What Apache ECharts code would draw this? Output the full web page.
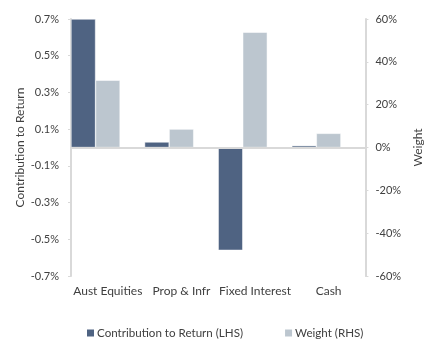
<!DOCTYPE html>
<html>
<head>
<meta charset="utf-8">
<script src="https://cdn.jsdelivr.net/npm/echarts@6/dist/echarts.min.js"></script>
<style>
html,body{margin:0;padding:0;background:#fff;}
#chart{width:432px;height:353px;}
</style>
</head>
<body>
<div id="chart"></div>
<script>
const categories = ["Aust Equities", "Prop & Infr", "Fixed Interest", "Cash"];
const contribution = [0.70, 0.03, -0.56, 0.01];
const weight = [31.4, 8.6, 53.8, 6.6];
const leftTicks = [-0.7, -0.5, -0.3, -0.1, 0.1, 0.3, 0.5, 0.7];
const rightTicks = [-60, -40, -20, 0, 20, 40, 60];

const FONT = 'Lato';
const TXT = '#404040';
const AXIS = '#d9d9d9';

const chart = echarts.init(document.getElementById('chart'), null, {renderer: 'canvas'});
chart.setOption({
  animation: false,
  textStyle: {fontFamily: FONT, color: TXT},
  grid: {left: 71, right: 66, top: 19, bottom: 77, containLabel: false},
  legend: {
    data: ['Contribution to Return (LHS)', 'Weight (RHS)'],
    bottom: 9, left: 80,
    itemWidth: 9, itemHeight: 9, itemGap: 40,
    icon: 'rect',
    textStyle: {fontFamily: FONT, fontSize: 11.6, color: TXT, padding: [0, 0, 0, -3]}
  },
  xAxis: {
    type: 'category',
    data: categories,
    axisLine: {show: false},
    axisTick: {show: false},
    axisLabel: {fontFamily: FONT, fontSize: 12, color: TXT, margin: 9, interval: 0}
  },
  yAxis: [{
    type: 'value',
    min: -0.7, max: 0.7,
    name: 'Contribution to Return',
    nameLocation: 'middle', nameRotate: 90, nameGap: 45, nameMoveOverlap: false,
    nameTextStyle: {fontFamily: FONT, fontSize: 12, color: TXT},
    axisLine: {show: true, lineStyle: {color: AXIS, width: 2}},
    axisTick: {show: true, length: 3, lineStyle: {color: AXIS}, customValues: leftTicks},
    axisLabel: {fontFamily: FONT, fontSize: 11, color: TXT, margin: 12, customValues: leftTicks,
      formatter: v => v.toFixed(1) + '%'},
    splitLine: {show: false}
  }, {
    type: 'value',
    min: -60, max: 60, interval: 20,
    position: 'right',
    name: 'Weight',
    nameLocation: 'middle', nameRotate: 90, nameGap: 46,
    nameTextStyle: {fontFamily: FONT, fontSize: 12, color: TXT},
    axisLine: {show: true, lineStyle: {color: AXIS, width: 2}},
    axisTick: {show: true, length: 3, lineStyle: {color: AXIS}},
    axisLabel: {fontFamily: FONT, fontSize: 11, color: TXT, margin: 10,
      formatter: v => v + '%'},
    splitLine: {show: false}
  }],
  series: [{
    name: 'Contribution to Return (LHS)',
    type: 'bar', yAxisIndex: 0,
    data: contribution,
    barGap: '0%', barCategoryGap: '0%',
    itemStyle: {color: '#4f6382', borderColor: '#fff', borderWidth: 0.5},
    markLine: {
      silent: true, symbol: 'none', label: {show: false},
      lineStyle: {color: AXIS, width: 2, type: 'solid'},
      data: [{yAxis: 0}]
    }
  }, {
    name: 'Weight (RHS)',
    type: 'bar', yAxisIndex: 1,
    data: weight,
    itemStyle: {color: '#bcc6cf', borderColor: '#fff', borderWidth: 0.5}
  }, {
    name: 'spacer',
    type: 'bar', yAxisIndex: 1,
    data: [null, null, null, null]
  }]
});
</script>
</body>
</html>
